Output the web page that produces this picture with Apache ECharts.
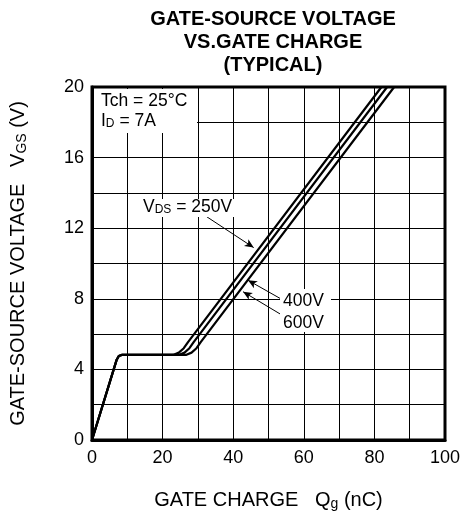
<!DOCTYPE html>
<html>
<head>
<meta charset="utf-8">
<script src="https://cdn.jsdelivr.net/npm/echarts@6/dist/echarts.min.js"></script>
<style>
  html, body { margin: 0; padding: 0; background: #fff; }
  #app { width: 464px; height: 518px; }
</style>
</head>
<body>
<div id="app"></div>
<script>
const app = document.getElementById('app')
const chart = echarts.init(app)

// gate charge Qg (nC) vs gate-source voltage VGS (V)
const seriesNames = ['250V', '400V', '600V']
const curve250 = [[0, 0], [7, 4.55], [7.6, 4.76], [8.4, 4.82], [23, 4.82], [24.6, 4.95], [26, 5.2], [27.2, 5.55], [82, 20]]
const curve400 = [[0, 0], [7, 4.55], [7.6, 4.76], [8.4, 4.82], [24.6, 4.82], [26.2, 4.95], [27.6, 5.2], [28.8, 5.55], [83.6, 20]]
const curve600 = [[0, 0], [7, 4.55], [7.6, 4.76], [8.4, 4.82], [26.6, 4.82], [28.2, 4.95], [29.6, 5.2], [30.8, 5.55], [85.6, 20]]
const curves = [curve250, curve400, curve600]

// pointer lines for the VDS labels: [from, to] in (Qg, VGS)
const pointers = [
  [[32.5, 12.65], [45.8, 10.9]],
  [[54.1, 7.93], [44.2, 9.05]],
  [[53.8, 7.08], [42.8, 8.4]]
]

const xTicks = [0, 20, 40, 60, 80, 100]
const yTicks = [0, 4, 8, 12, 16, 20]

const font = 'Liberation Sans, Arial, sans-serif'

const series = curves.map((c, i) => ({
  name: seriesNames[i],
  type: 'line',
  data: c,
  showSymbol: false,
  symbol: 'none',
  lineStyle: { color: '#000', width: 2.2 },
  z: 3,
  markLine: {
    silent: true,
    symbol: ['none', 'arrow'],
    symbolSize: [6, 9],
    label: { show: false },
    lineStyle: { color: '#000', width: 1, type: 'solid' },
    data: [[{ coord: pointers[i][0] }, { coord: pointers[i][1] }]]
  }
}))

const subRich = {
  m: { fontFamily: font, fontSize: 20, color: '#000', lineHeight: 22 },
  s: { fontFamily: font, fontSize: 14, color: '#000', lineHeight: 12, verticalAlign: 'bottom' }
}

chart.setOption({
  animation: false,
  backgroundColor: '#fff',
  title: {
    text: 'GATE-SOURCE VOLTAGE\nVS.GATE CHARGE\n(TYPICAL)',
    left: 268,
    textAlign: 'center',
    top: 3,
    textStyle: {
      fontFamily: font,
      fontSize: 20,
      fontWeight: 'bold',
      color: '#000',
      lineHeight: 23
    }
  },
  grid: {
    left: 92,
    right: 19,
    top: 87,
    bottom: 78,
    show: true,
    borderColor: '#000',
    borderWidth: 3
  },
  xAxis: {
    type: 'value',
    min: 0,
    max: 100,
    interval: 10,
    name: '{m|GATE CHARGE   Q}{s|g}{m| (nC)}',
    nameLocation: 'middle',
    nameGap: 49,
    nameTextStyle: { rich: subRich },
    axisLine: { show: true, lineStyle: { color: '#000', width: 3 } },
    axisTick: { show: false },
    splitLine: { show: true, lineStyle: { color: '#000', width: 1 } },
    axisLabel: {
      color: '#000',
      fontFamily: font,
      fontSize: 18,
      margin: 9,
      formatter: v => (xTicks.includes(v) ? String(v) : '')
    }
  },
  yAxis: {
    type: 'value',
    min: 0,
    max: 20,
    interval: 2,
    name: '{m|GATE-SOURCE VOLTAGE   V}{s|GS}{m| (V)}',
    nameLocation: 'middle',
    nameGap: 63,
    nameRotate: 90,
    nameTextStyle: { rich: subRich },
    axisLine: { show: true, lineStyle: { color: '#000', width: 3 } },
    axisTick: { show: false },
    splitLine: { show: true, lineStyle: { color: '#000', width: 1 } },
    axisLabel: {
      color: '#000',
      fontFamily: font,
      fontSize: 18,
      margin: 8,
      formatter: v => (yTicks.includes(v) ? String(v) : '')
    }
  },
  graphic: [
    { type: 'rect', shape: { x: 94, y: 89, width: 103, height: 44 }, style: { fill: '#fff' }, z: 10 },
    { type: 'rect', shape: { x: 140, y: 199, width: 98, height: 18 }, style: { fill: '#fff' }, z: 10 },
    { type: 'rect', shape: { x: 280, y: 289, width: 51, height: 43 }, style: { fill: '#fff' }, z: 10 },
    {
      type: 'text', x: 101, y: 92, z: 11,
      style: { text: 'Tch = 25°C', font: '17.5px ' + font, fill: '#000' }
    },
    {
      type: 'text', x: 101, y: 112, z: 11,
      style: {
        text: '{m|I}{s|D}{m| = 7A}',
        rich: {
          m: { fontFamily: font, fontSize: 17.5, fill: '#000', lineHeight: 18 },
          s: { fontFamily: font, fontSize: 12, fill: '#000', lineHeight: 10, verticalAlign: 'bottom' }
        }
      }
    },
    {
      type: 'text', x: 143, y: 198, z: 11,
      style: {
        text: '{m|V}{s|DS}{m| = 250V}',
        rich: {
          m: { fontFamily: font, fontSize: 17.5, fill: '#000', lineHeight: 18 },
          s: { fontFamily: font, fontSize: 12, fill: '#000', lineHeight: 10, verticalAlign: 'bottom' }
        }
      }
    },
    {
      type: 'text', x: 283, y: 292, z: 11,
      style: { text: '400V', font: '17.5px ' + font, fill: '#000' }
    },
    {
      type: 'text', x: 283, y: 314, z: 11,
      style: { text: '600V', font: '17.5px ' + font, fill: '#000' }
    }
  ],
  series: series
})
</script>
</body>
</html>
